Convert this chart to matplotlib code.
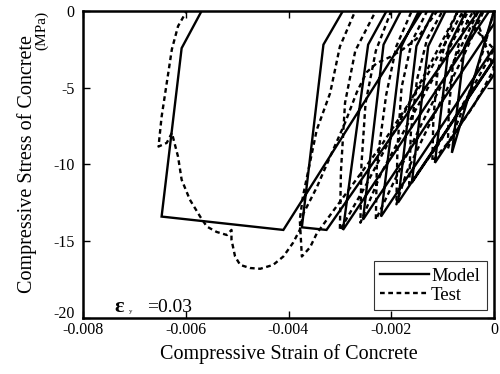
import matplotlib
matplotlib.use("Agg")
import matplotlib.pyplot as plt
import matplotlib.transforms as mtransforms

plt.rcParams['font.family'] = ['Liberation Serif', 'DejaVu Serif']

# ---- Model (solid) path: strain, stress ----
model_strain = [0.0, -0.00082, -0.00057, -0.00023,
                0.00083, -0.00115, -0.00088, -0.00054,
                0.00064, -0.0016, -0.00128, -0.00094,
                0.00063, -0.00187, -0.00151, -0.00117,
                0.00048, -0.0022, -0.0018, -0.00146,
                0.00017, -0.00255, -0.00215, -0.00181,
                -0.00009, -0.00294, -0.00245, -0.00209,
                -0.0003, -0.00326, -0.00374, -0.00332, -0.00294,
                -0.0014, -0.0041, -0.00647, -0.00608, -0.00569]
model_stress = [0.0, -9.25, -2.3, 0.0,
                0.0, -9.9, -2.3, 0.0,
                0.0, -11.2, -2.3, 0.0,
                0.0, -12.5, -2.3, 0.0,
                0.0, -13.4, -2.3, 0.0,
                0.0, -13.6, -2.2, 0.0,
                0.0, -14.27, -2.2, 0.0,
                0.0, -14.27, -14.1, -2.2, 0.0,
                0.0, -14.27, -13.4, -2.43, 0.0]

# ---- Test (dashed) path: strain, stress ----
test_strain = [0.0, -0.0002, -0.0005, -0.0008, -0.0009,
               -0.00088, -0.0008, -0.0006, -0.0004,
               0.0, -0.0004, -0.0009, -0.0012,
               -0.00118, -0.0011, -0.0009, -0.0007,
               0.0, -0.0005, -0.0011, -0.00165,
               -0.00162, -0.0015, -0.0013, -0.001,
               -0.0002, -0.0006, -0.0012, -0.0017, -0.0019,
               -0.00188, -0.0018, -0.0016, -0.0013,
               -0.0003, -0.0008, -0.0014, -0.0019, -0.0023,
               -0.00228, -0.0021, -0.0019, -0.0016,
               -0.0005, -0.0010, -0.0017, -0.0022, -0.0026,
               -0.00258, -0.0025, -0.0023, -0.002,
               -0.0007, -0.0012, -0.0019, -0.0025, -0.0030,
               -0.00298, -0.0029, -0.0027, -0.0023,
               -0.0006, -0.0013, -0.0022, -0.0031, -0.00345, -0.00358, -0.00374,
               -0.00378, -0.00372, -0.00345, -0.00319, -0.003, -0.0027,
               -0.0011, -0.0015, -0.00177, -0.00202, -0.00228, -0.00248, -0.00267,
               -0.0029, -0.00319, -0.00345, -0.00371, -0.00378,
               -0.00391, -0.0041, -0.0043, -0.00455, -0.00475, -0.00494, -0.00504,
               -0.00511, -0.00511, -0.0052, -0.0054, -0.00559, -0.00572, -0.00592,
               -0.00608, -0.00615, -0.00627, -0.00637, -0.00653,
               -0.00647, -0.00637, -0.00627, -0.00615, -0.00598]
test_stress = [0.0, -2.5, -5.5, -8.0, -9.0,
               -6.5, -3.5, -1.2, 0.0,
               -3.8, -6.2, -8.6, -9.8,
               -7.0, -4.0, -1.5, 0.0,
               -2.5, -5.5, -8.8, -11.3,
               -8.0, -4.5, -1.8, 0.0,
               0.0, -3.0, -7.0, -10.5, -12.6,
               -9.0, -5.0, -2.0, 0.0,
               0.0, -3.4, -7.3, -10.8, -13.6,
               -10.0, -5.5, -2.3, 0.0,
               0.0, -3.3, -7.5, -10.6, -13.8,
               -10.0, -6.0, -2.6, 0.0,
               0.0, -3.2, -7.6, -11.4, -14.3,
               -10.5, -6.0, -2.6, 0.0,
               0.0, -4.2, -8.8, -12.9, -14.5, -15.4, -16.0,
               -13.6, -12.1, -7.75, -5.36, -2.33, 0.0,
               0.0, -1.8, -2.5, -3.0, -3.4, -4.0, -5.3,
               -7.3, -9.5, -11.5, -13.2, -14.27,
               -15.1, -16.0, -16.55, -16.8, -16.75, -16.55, -16.0,
               -14.9, -14.27, -14.6, -14.4, -14.05, -13.4, -12.3,
               -11.0, -9.5, -7.95, -8.6, -8.84,
               -6.9, -4.7, -2.5, -1.0, 0.0]

x_ticks = [-0.008, -0.006, -0.004, -0.002, 0.0]
x_tick_labels = ['-0.008', '-0.006', '-0.004', '-0.002', '0']
y_ticks = [-20, -15, -10, -5, 0]
y_tick_labels = ['-20', '-15', '-10', '-5', '0']

fig = plt.figure(figsize=(5.0, 3.74), dpi=100)
ax = fig.add_axes([0.166, 0.150, 0.822, 0.821])

ax.plot(model_strain, model_stress, color='black', lw=1.7, solid_joinstyle='miter', label='Model')
ax.plot(test_strain, test_stress, color='black', lw=1.7, linestyle=(0, (2.0, 1.5)), label='Test')

ax.set_xlim(-0.008, 0.0)
ax.set_ylim(-20, 0)
ax.set_xticks(x_ticks)
ax.set_xticklabels(x_tick_labels)
ax.set_yticks(y_ticks)
ax.set_yticklabels(y_tick_labels)
ax.tick_params(direction='in', top=True, right=True, length=5, width=1, labelsize=11.5, colors='black')
ax.tick_params(axis='x', pad=3)
ax.tick_params(axis='y', pad=6)
for s in ax.spines.values():
    s.set_linewidth(1.8)

# nudge the bottom y label up as in the reference, where it sits just above -0.008
lbl = ax.get_yticklabels()[0]
lbl.set_transform(lbl.get_transform() + mtransforms.ScaledTranslation(0, 4 / 72, fig.dpi_scale_trans))

ax.set_xlabel('Compressive Strain of Concrete', fontsize=14.5, labelpad=4)
ax.set_ylabel('Compressive Stress of Concrete', fontsize=14.5, labelpad=12)
fig.text(0.083, 0.972, '(MPa)', rotation=90, fontsize=11, ha='center', va='top')

fig.text(0.228, 0.165, 'ε', fontsize=16, fontweight='bold', ha='left', va='baseline')
fig.text(0.258, 0.163, 'y', fontsize=5, ha='left', va='baseline')
fig.text(0.295, 0.165, '=0.03', fontsize=14, ha='left', va='baseline')

leg = ax.legend(loc='lower right', fontsize=13.5, frameon=True, fancybox=False,
                edgecolor='black', borderaxespad=0.4, handlelength=2.6,
                handletextpad=0.1, borderpad=0.35, labelspacing=0.1)
leg.get_frame().set_linewidth(0.8)

fig.savefig('out.png', dpi=100)
